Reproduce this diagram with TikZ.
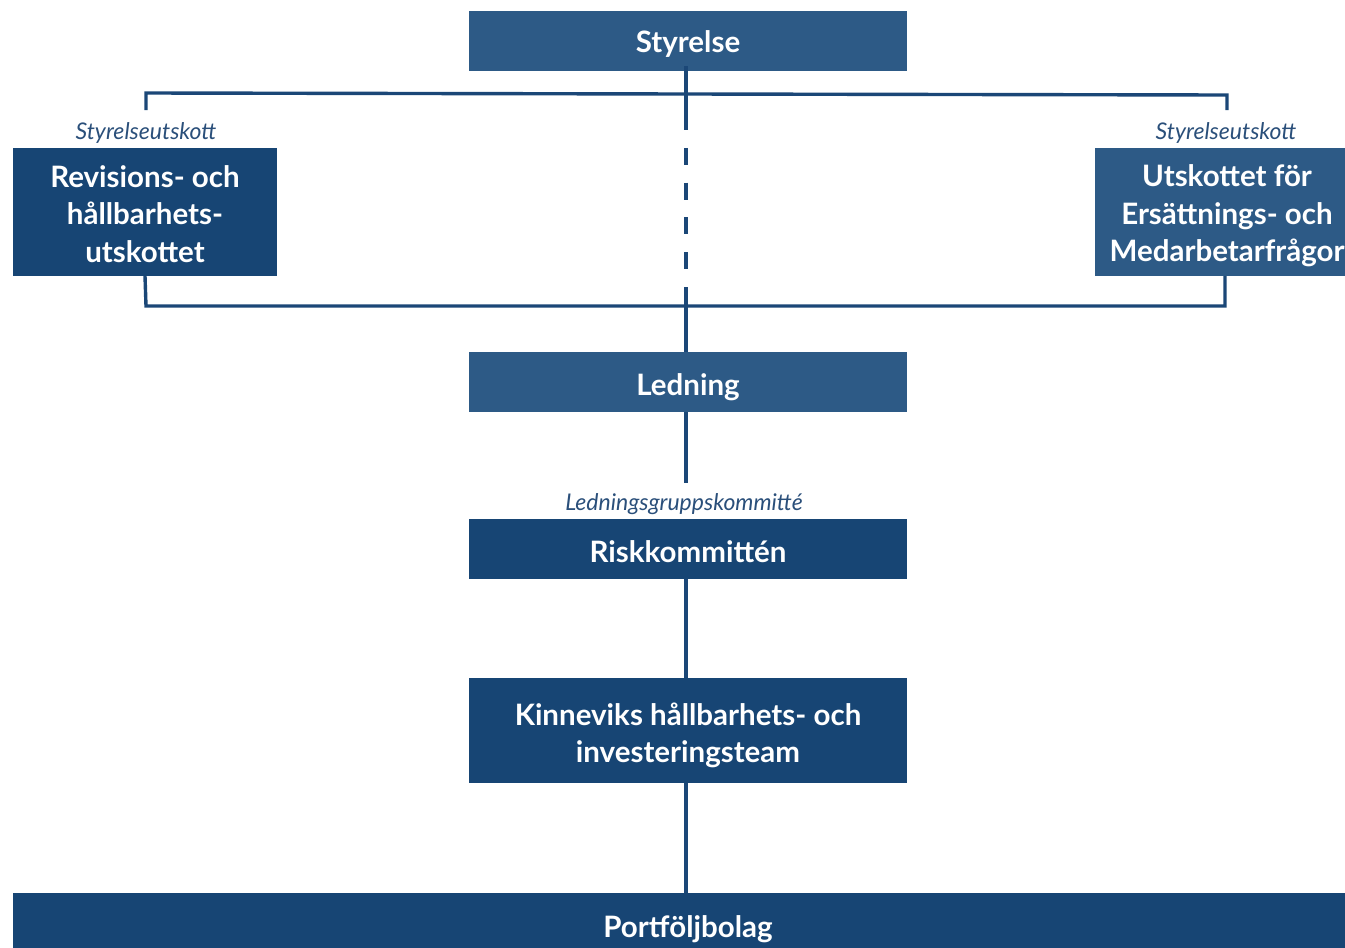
\documentclass[tikz,border=0pt]{standalone}
\usepackage{fontspec}
\setmainfont{Lato}
\definecolor{boxlight}{HTML}{2D5A86}
\definecolor{boxdark}{HTML}{174574}
\definecolor{linec}{HTML}{1B4777}
\definecolor{labelc}{HTML}{2A4F7A}
\begin{document}
\begin{tikzpicture}[x=1pt,y=-1pt,
  box/.style={inner sep=0pt,outer sep=0pt},
  lightbox/.style={box,fill=boxlight},
  darkbox/.style={box,fill=boxdark},
  boxtext/.style={inner sep=0pt,text=white,align=center,font=\fontsize{29.5}{37.5}\selectfont\bfseries},
  conn/.style={draw=linec,line width=3.4pt},
  tag/.style={inner sep=0pt,text=labelc,font=\fontsize{23}{25}\selectfont\itshape}]
\useasboundingbox (0,0) rectangle (1345,948);
\begin{scope}
\clip (0,0) rectangle (1345,948);
% boxes
\node[lightbox,minimum width=438pt,minimum height=60pt] (sty) at (688,41) {};
\node[darkbox,minimum width=264pt,minimum height=128pt] (rev) at (145,212) {};
\node[lightbox,minimum width=264pt,minimum height=128pt] (ers) at (1227,212) {};
\node[lightbox,minimum width=438pt,minimum height=60pt] (led) at (688,382) {};
\node[darkbox,minimum width=438pt,minimum height=60pt] (risk) at (688,549) {};
\node[darkbox,minimum width=438pt,minimum height=105pt] (kin) at (688,730.5) {};
\node[darkbox,minimum width=1350pt,minimum height=70pt] (port) at (688,928) {};
% box texts
\node[boxtext] (styT) at ([yshift=-3pt]sty.center) {Styrelse};
\node[boxtext] (revT) at ([yshift=-2pt]rev.center) {Revisions- och\\hållbarhets-\\utskottet};
\node[boxtext] (ersT) at ([yshift=-4pt]ers.center) {Utskottet för\\Ersättnings- och\\Medarbetarfrågor};
\node[boxtext] (ledT) at ([yshift=-5pt]led.center) {Ledning};
\node[boxtext] (riskT) at ([yshift=-3pt]risk.center) {Riskkommittén};
\node[boxtext] (kinT) at ([yshift=-5pt]kin.center) {Kinneviks hållbarhets- och\\investeringsteam};
\node[boxtext] (portT) at ([yshift=-1pt]port.center) {Portföljbolag};
% labels
\node[tag] (tagrev) at (146,133) {Styrelseutskott};
\node[tag] (tagers) at (1226,133) {Styrelseutskott};
\node[tag] (tagrisk) at (684,504) {Ledningsgruppskommitté};
% connector coordinates
\coordinate (stybot) at (686,66);
\coordinate (topl) at (146,93);
\coordinate (topr) at (1227,95);
\coordinate (toplend) at (146,110);
\coordinate (toprend) at (1227,110);
\coordinate (botl) at (146,306);
\coordinate (botr) at (1225,306);
\coordinate (dashstart) at (686,113);
\coordinate (dashend) at (686,287);
\coordinate (tagbot) at (686,483);
% connectors
\draw[conn] (toplend) -- (topl) -- (topr) -- (toprend);
\draw[conn] (rev.south) -- (botl) -- (botr) -- (botr |- ers.south);
\draw[conn] (stybot) -- (dashstart);
\draw[conn,dash pattern=on 17pt off 17.8pt] (dashstart) -- (dashend);
\draw[conn] (dashend) -- (stybot |- led.north);
\draw[conn] (stybot |- led.south) -- (tagbot);
\draw[conn] (stybot |- risk.south) -- (stybot |- kin.north);
\draw[conn] (stybot |- kin.south) -- (stybot |- port.north);
\end{scope}
\end{tikzpicture}
\end{document}
